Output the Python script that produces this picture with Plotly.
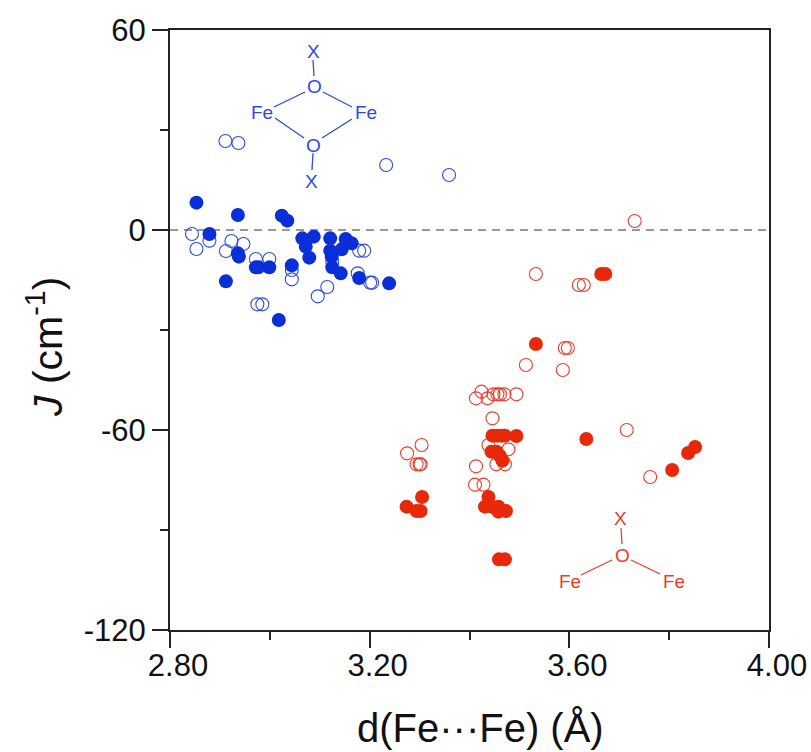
import plotly.graph_objects as go

blue_open_x = [2.911,2.937,3.233,3.359,2.844,2.853,2.879,2.923,2.912,2.947,2.972,2.999,3.044,3.044,3.115,3.096,2.975,2.985,3.179,3.189,3.176,3.201,3.205,3.125]
blue_open_y = [26.7,26.1,19.5,16.5,-1.2,-5.7,-3.2,-3.3,-6.3,-4.2,-8.7,-8.7,-12,-14.8,-17.1,-19.9,-22.3,-22.3,-6.2,-6.2,-13,-15.8,-15.8,-9.5]
blue_fill_x = [2.853,2.936,3.024,3.035,2.879,3.065,3.088,3.072,3.079,2.938,2.936,2.972,2.977,2.999,3.044,2.912,3.018,3.121,3.121,3.124,3.125,3.142,3.144,3.152,3.164,3.179,3.239]
blue_fill_y = [8.2,4.5,4.3,2.8,-1.2,-2.5,-2,-5,-8.3,-8,-7,-11.2,-11.2,-11.2,-10.6,-15.4,-27,-2.5,-6.2,-8,-11.2,-13,-5.8,-2.7,-4,-14.4,-16]
red_open_x = [3.731,3.533,3.619,3.629,3.591,3.597,3.587,3.513,3.715,3.762,3.275,3.304,3.294,3.300,3.302,3.413,3.411,3.428,3.424,3.413,3.436,3.448,3.456,3.461,3.470,3.494,3.446,3.438,3.478,3.454,3.471]
red_open_y = [2.7,-13.2,-16.5,-16.5,-35.4,-35.4,-42,-40.5,-60,-74.1,-67,-64.5,-70.3,-70.3,-70.3,-70.9,-76.4,-76.4,-48.5,-50.5,-50.5,-49.3,-49.3,-49.3,-49.3,-49.3,-56.5,-64.5,-65.8,-70.3,-70.3]
red_fill_x = [3.274,3.305,3.294,3.302,3.438,3.431,3.444,3.458,3.458,3.473,3.446,3.456,3.464,3.471,3.494,3.444,3.454,3.461,3.466,3.459,3.471,3.533,3.634,3.664,3.672,3.806,3.838,3.852]
red_fill_y = [-83,-80.1,-84.3,-84.3,-80.1,-83,-83,-83,-84.5,-84.3,-61.7,-61.7,-61.7,-61.7,-61.8,-66.5,-66.5,-67.8,-69.2,-98.8,-98.8,-34.2,-62.7,-13.2,-13.2,-72,-66.9,-65.1]

x_ticks = [2.8,3.2,3.6,4.0]
x_labels = ["2.80","3.20","3.60","4.00"]
x_minor = [3.0,3.4,3.8]
y_ticks = [60,0,-60,-120]
y_labels = ["60","0","-60","-120"]
y_minor = [30,-30,-90]

BLUE = "#0a2fd8"; BLUE_L = "#2b4be6"; RED = "#e8280a"; RED_L = "#f03a28"
FONT = "Liberation Sans"

fig = go.Figure()
def open_tr(x, y, c):
    fig.add_trace(go.Scatter(x=x, y=y, mode="markers", marker=dict(size=13, color="rgba(0,0,0,0)", line=dict(color=c, width=1.1))))
def fill_tr(x, y, c):
    fig.add_trace(go.Scatter(x=x, y=y, mode="markers", marker=dict(size=14, color=c, line=dict(width=0))))
open_tr(blue_open_x, blue_open_y, BLUE_L)
fill_tr(blue_fill_x, blue_fill_y, BLUE)
open_tr(red_open_x, red_open_y, RED_L)
fill_tr(red_fill_x, red_fill_y, RED)

fig.add_shape(type="line", x0=2.8, x1=4.0, y0=0, y1=0, line=dict(color="#333", width=1, dash="8px,6px"), layer="below")

def px(xp): return (xp-170)/599
def py(yp): return (630-yp)/600
def seg(a, b, c, d, col):
    fig.add_shape(type="line", xref="paper", yref="paper", x0=px(a), y0=py(b), x1=px(c), y1=py(d), line=dict(color=col, width=1.3))
def lab(a, b, t, col, size=19, **kw):
    fig.add_annotation(xref="paper", yref="paper", x=px(a), y=py(b), text=t, showarrow=False, font=dict(family=FONT, size=size, color=col), xanchor="center", yanchor="middle", **kw)

for s in [(313,60,314,76),(274,107,305,92),(323,92,352,107),(275,118,304,138),(322,138,352,119),(313,153,312,170)]:
    seg(*s, BLUE_L)
for t in [(313,51,"X"),(314,87,"O"),(262,113,"Fe"),(366,113,"Fe"),(313,145,"O"),(311,181,"X")]:
    lab(*t, BLUE_L)
for s in [(621,528,622,544),(581,575,612,560),(631,560,660,574)]:
    seg(*s, RED_L)
for t in [(620,518,"X"),(622,555,"O"),(570,581,"Fe"),(674,581,"Fe")]:
    lab(*t, RED_L)

# axis titles
lab(480, 728, "d(Fe···Fe) (Å)", "#111", size=40)
lab(45, 347, "<i>J</i> (cm<sup>-1</sup>)", "#111", size=41, textangle=-90)

axis = dict(showgrid=False, zeroline=False, showline=True, linecolor="#222", linewidth=2, mirror=True,
            ticks="outside", ticklen=16, tickwidth=2, tickcolor="#222", automargin=False,
            tickfont=dict(family=FONT, size=31, color="#111"))
fig.update_layout(
    width=811, height=752, showlegend=False, plot_bgcolor="white", paper_bgcolor="white",
    margin=dict(l=170, r=42, t=30, b=122),
    xaxis=dict(axis, range=[2.8,4.0], tickvals=x_ticks, ticktext=x_labels, ticklabelstandoff=-9, ticklabelshift=8,
               minor=dict(tickvals=x_minor, ticks="outside", ticklen=8, tickwidth=2, tickcolor="#222")),
    yaxis=dict(axis, range=[-120,60], tickvals=y_ticks, ticktext=y_labels,
               minor=dict(tickvals=y_minor, ticks="outside", ticklen=8, tickwidth=2, tickcolor="#222")),
)
fig.write_html("out.html", config=dict(displayModeBar=False), post_script="document.body.style.margin='0';document.documentElement.style.overflow='hidden';")
